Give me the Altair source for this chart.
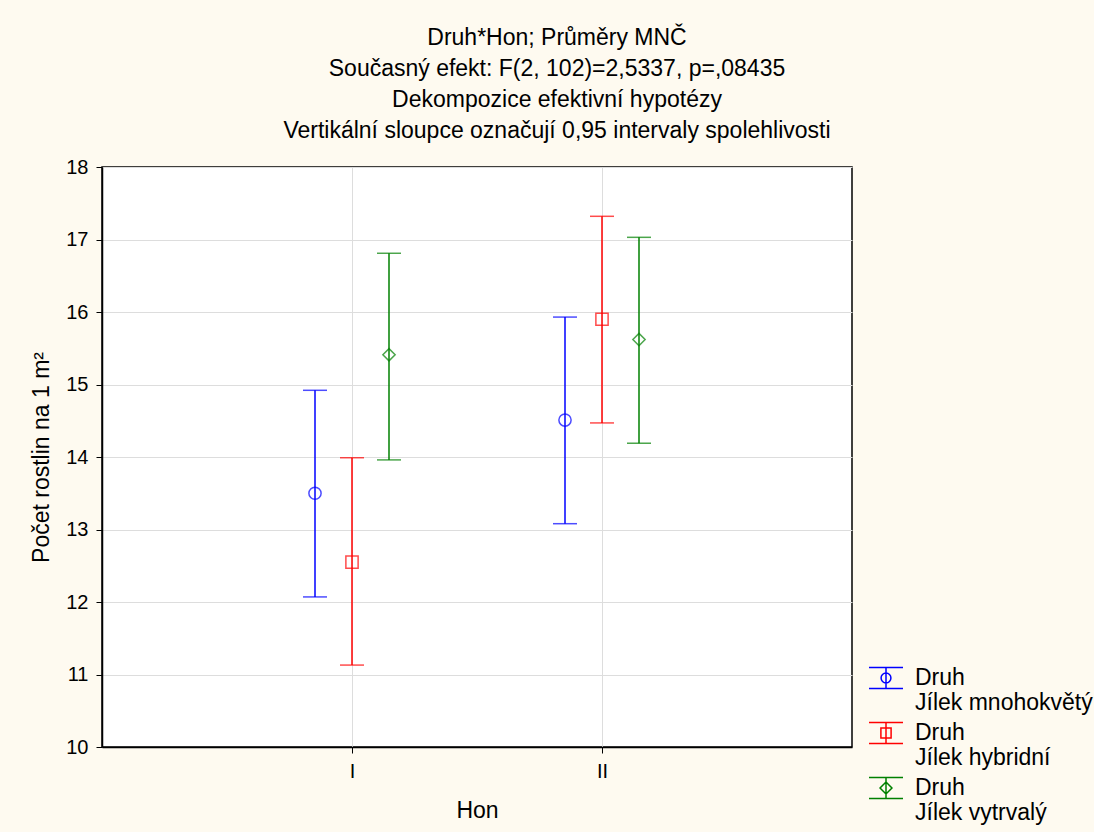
import altair as alt
import pandas as pd

hon = ["I", "I", "I", "II", "II", "II"]
druh = ["Jílek mnohokvětý", "Jílek hybridní", "Jílek vytrvalý"] * 2
mean = [13.50, 12.55, 15.41, 14.51, 15.90, 15.62]
lower = [12.07, 11.13, 13.96, 13.08, 14.47, 14.19]
upper = [14.92, 13.99, 16.81, 15.93, 17.32, 17.03]

druh_order = ["Jílek mnohokvětý", "Jílek hybridní", "Jílek vytrvalý"]
colors = ["#0000FF", "#FF0000", "#008000"]
shapes = ["circle", "square", "diamond"]

cap = "M-1,-0.62H1M-1,0.62H1M0,-0.62V0.62"
legend_paths = [
    cap + "M-0.29,0A0.29,0.29 0 1,1 0.29,0A0.29,0.29 0 1,1 -0.29,0",
    cap + "M-0.3,-0.3H0.3V0.3H-0.3Z",
    cap + "M0,-0.35L0.35,0L0,0.35L-0.35,0Z",
]

df = pd.DataFrame({"Hon": hon, "Druh": druh, "mean": mean,
                   "lower": lower, "upper": upper})

FONT = "Liberation Sans"

base = alt.Chart(df).transform_calculate(
    hx="datum.Hon == 'I' ? 1 : 2",
    off="datum.Druh == 'Jílek mnohokvětý' ? -0.148 : (datum.Druh == 'Jílek hybridní' ? 0 : 0.148)",
    xpos="datum.hx + datum.off",
    DruhL="datum.Druh",
)

xenc = alt.X(
    "xpos:Q",
    scale=alt.Scale(domain=[0, 3], nice=False, zero=False),
    axis=alt.Axis(
        values=[1, 2], labelExpr="datum.value == 1 ? 'I' : 'II'",
        title="Hon", grid=True, gridColor="#DDDDDD", tickSize=6,
        labelPadding=8, titlePadding=18,
    ),
)
yscale = alt.Scale(domain=[10, 18], nice=False, zero=False)
yaxis = alt.Axis(
    values=list(range(10, 19)), format="d", title="Počet rostlin na 1 m²",
    grid=True, gridColor="#DDDDDD", tickSize=6, labelPadding=8, titlePadding=12,
)
cenc = alt.Color("Druh:N", scale=alt.Scale(domain=druh_order, range=colors),
                 legend=None)

leg = alt.Legend(title=None, labelExpr="['Druh', datum.label]")

rules = base.mark_rule(strokeWidth=1.5).encode(
    x=xenc, y=alt.Y("lower:Q", scale=yscale, axis=yaxis), y2="upper:Q",
    color=cenc,
)
cap_lo = base.mark_tick(orient="horizontal", size=24, thickness=1.5).encode(
    x="xpos:Q", y="lower:Q", color=cenc)
cap_hi = base.mark_tick(orient="horizontal", size=24, thickness=1.5).encode(
    x="xpos:Q", y="upper:Q", color=cenc)
points = base.mark_point(filled=False, size=150, strokeWidth=1.5).encode(
    x="xpos:Q", y="mean:Q", color=cenc,
    shape=alt.Shape("Druh:N", scale=alt.Scale(domain=druh_order, range=shapes),
                    legend=None),
)
legend_layer = base.mark_point(filled=False, opacity=0).encode(
    x="xpos:Q", y="mean:Q",
    stroke=alt.Stroke("DruhL:N", scale=alt.Scale(domain=druh_order, range=colors),
                      legend=leg),
    shape=alt.Shape("DruhL:N", scale=alt.Scale(domain=druh_order, range=legend_paths),
                    legend=leg),
)

chart = alt.layer(rules, cap_lo, cap_hi, points, legend_layer).resolve_scale(
    shape="independent", stroke="independent", color="independent"
).properties(
    width=750, height=580,
    autosize=alt.AutoSizeParams(type="none"),
    padding={"left": 102, "top": 167, "right": 242, "bottom": 85},
    background="#FEFAF0",
    title=alt.Title(
        text=["Druh*Hon; Průměry MNČ",
              "Současný efekt: F(2, 102)=2,5337, p=,08435",
              "Dekompozice efektivní hypotézy",
              "Vertikální sloupce označují 0,95 intervaly spolehlivosti"],
        fontSize=23, font=FONT, fontWeight="normal", color="black",
        lineHeight=31, anchor="middle", dx=80, offset=14,
    ),
).configure_view(
    stroke="black", strokeWidth=1.5, fill="white"
).configure_axis(
    labelFont=FONT, titleFont=FONT, labelFontSize=20, titleFontSize=23,
    labelColor="black", titleColor="black", titleFontWeight="normal",
    domainColor="black", tickColor="black", domainWidth=1.5,
).configure_legend(
    orient="none", legendX=766, legendY=493, padding=0,
    symbolSize=1156, symbolStrokeWidth=1.5, symbolOpacity=1,
    symbolFillColor="transparent",
    labelFont=FONT, labelFontSize=23, labelColor="black", labelLimit=400,
    labelBaseline="middle", labelOffset=11, rowPadding=-1,
)

chart.save("out.html", embed_options={"renderer": "svg", "actions": False})
